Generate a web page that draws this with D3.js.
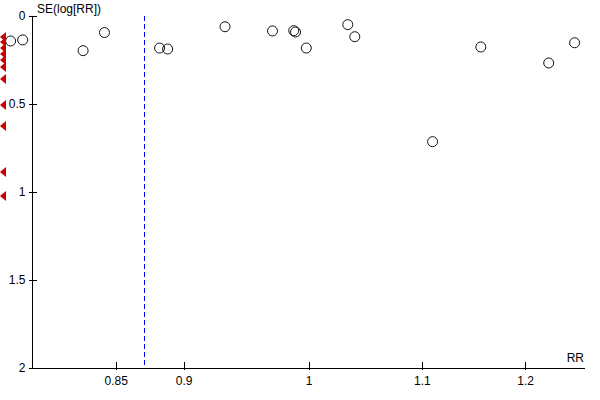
<!DOCTYPE html>
<html>
<head>
<meta charset="utf-8">
<script src="https://cdn.jsdelivr.net/npm/d3@7"></script>
<style>
  body { margin: 0; background: #fff; }
  svg { display: block; }
  text { font-family: "Liberation Sans", Arial, sans-serif; font-size: 12px; fill: #000; }
  line { shape-rendering: crispEdges; }
</style>
</head>
<body>
<svg id="chart" width="600" height="400"></svg>
<script>
// study estimates (risk ratio and standard error of log RR)
var studyRR = [0.778, 0.786, 0.827, 0.842, 0.882, 0.888, 0.932, 0.970, 0.9875, 0.989,
               0.998, 1.0335, 1.0396, 1.110, 1.156, 1.224, 1.251];
var studySE = [0.142, 0.136, 0.197, 0.094, 0.182, 0.1875, 0.061, 0.085, 0.0835, 0.091,
               0.182, 0.049, 0.1176, 0.714, 0.176, 0.267, 0.152];
// studies falling off the left edge of the RR scale (only SE shown)
var offscaleSE = [0.119, 0.148, 0.182, 0.216, 0.25, 0.29, 0.358, 0.506, 0.625, 0.886, 1.023];
var pooledRR = 0.871;
var xTicks = [0.85, 0.9, 1, 1.1, 1.2];
var yTicks = [0, 0.5, 1, 1.5, 2];

var svg = d3.select("#chart");

var x = d3.scaleLog().domain([0.7925, 1.262]).range([32.5, 585]);
var y = d3.scaleLinear().domain([0, 2]).range([16, 368]);

// y axis
var yAxis = svg.append("g")
  .attr("transform", "translate(" + x.range()[0] + ",0)")
  .call(d3.axisLeft(y).tickValues(yTicks).tickSize(4).tickPadding(3).tickFormat(d3.format("")));
yAxis.select(".domain").remove();
yAxis.selectAll(".tick line")
  .attr("stroke", "#000")
  .attr("x1", function(d){ return d == 2 ? 0 : 4 });
yAxis.selectAll(".tick text").style("font-size", "12px").attr("font-family", null);
svg.append("line")
  .attr("x1", x.range()[0]).attr("x2", x.range()[0])
  .attr("y1", y(0)).attr("y2", y(2))
  .attr("stroke", "#000");

// x axis
var xAxis = svg.append("g")
  .attr("transform", "translate(0," + y(2) + ")")
  .call(d3.axisBottom(x).tickValues(xTicks).tickSize(0).tickPadding(8).tickFormat(d3.format("")));
xAxis.select(".domain").remove();
xAxis.selectAll(".tick line").attr("stroke", "#000").attr("y1", -6).attr("y2", 2);
xAxis.selectAll(".tick text").style("font-size", "12px").attr("font-family", null);
svg.append("line")
  .attr("x1", x.range()[0]).attr("x2", x.range()[1])
  .attr("y1", y(2)).attr("y2", y(2))
  .attr("stroke", "#000");

// axis titles
svg.append("text")
  .attr("x", 37).attr("y", 13)
  .text("SE(log[RR])");
svg.append("text")
  .attr("x", 584).attr("y", 362)
  .attr("text-anchor", "end")
  .text("RR");

// pooled estimate
svg.append("line")
  .attr("x1", x(pooledRR)).attr("x2", x(pooledRR))
  .attr("y1", y(0)).attr("y2", y(2))
  .attr("stroke", "#0000ff")
  .attr("stroke-dasharray", "5,3");

// studies
svg.selectAll(".study")
  .data(studyRR)
  .enter()
  .append("circle")
  .attr("class", "study")
  .attr("cx", function(d){ return x(d) })
  .attr("cy", function(d, i){ return y(studySE[i]) })
  .attr("r", 5)
  .attr("fill", "none")
  .attr("stroke", "#111")
  .attr("stroke-width", 1);

// off-scale markers
svg.selectAll(".offscale")
  .data(offscaleSE)
  .enter()
  .append("path")
  .attr("class", "offscale")
  .attr("d", function(d){
    var cy = y(d);
    return "M 0," + cy + " L 6," + (cy - 5) + " L 6," + (cy + 5) + " Z";
  })
  .attr("fill", "#cc0000");
</script>
</body>
</html>
